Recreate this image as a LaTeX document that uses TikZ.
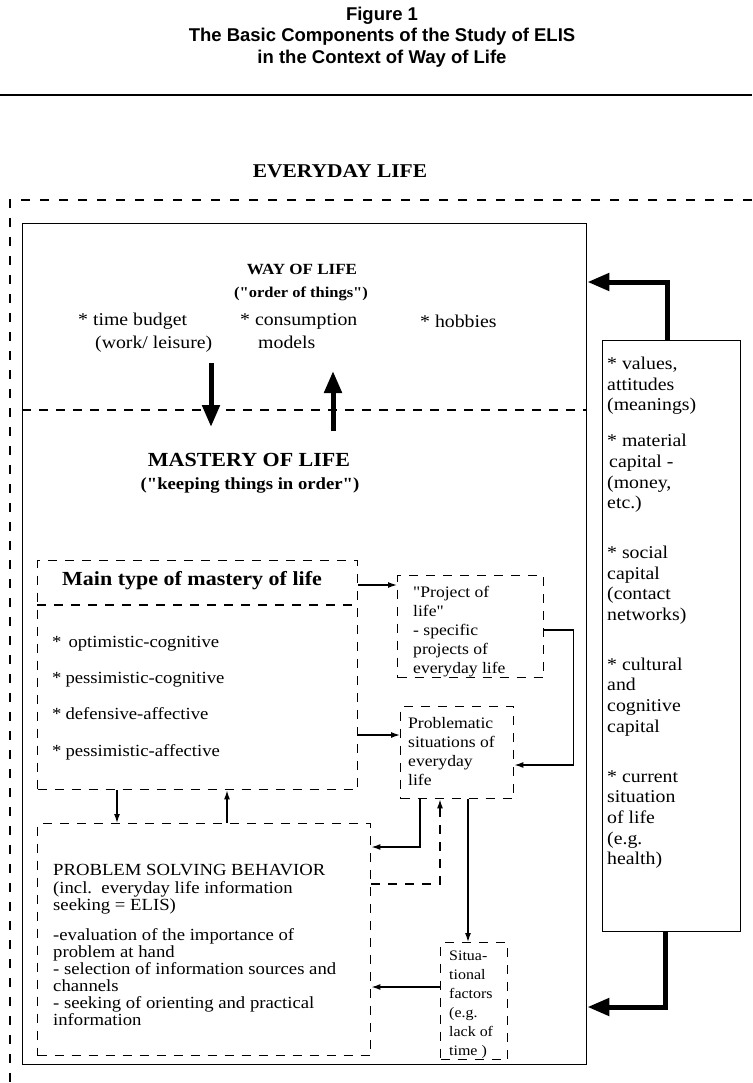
\documentclass[tikz,border=0pt]{standalone}
\usepackage{fontspec}
\setmainfont{Liberation Serif}[FakeStretch=1.1, Ligatures=TeXOff]
\newfontfamily\headfont{Liberation Sans}
\usetikzlibrary{arrows.meta}
\begin{document}
\begin{tikzpicture}[x=1pt,y=-1pt,
  solidbox/.style={draw, line width=1.4pt, inner sep=0pt, anchor=north west},
  dashbox/.style={draw, line width=1.4pt, dash pattern=on 9pt off 8pt, inner sep=0pt, anchor=north west},
  dashline/.style={line width=1.4pt, dash pattern=on 9pt off 8pt},
  txt/.style={anchor=north west, inner sep=0pt, align=left},
  lbl/.style={anchor=base, inner sep=0pt},
  fatarrow/.style={line width=5pt, line join=miter, -{Triangle[length=22pt,width=17pt]}},
  thinarrow/.style={line width=1.3pt, -{Latex[length=9pt,width=6pt]}},
]
\useasboundingbox (0,0) rectangle (752,1083);

% ---- title block ----
\node[font=\headfont\bfseries\fontsize{18.5}{21.5}\selectfont, align=center, inner sep=0pt]
  (title) at (382,37) {Figure 1\\The Basic Components of the Study of ELIS\\in the Context of Way of Life};
\coordinate (ruleL) at (0,95);
\coordinate (ruleR) at (752,95);
\draw[line width=2.6pt] (ruleL) -- (ruleR);

% ---- everyday life: open dashed frame ----
\node[lbl, font=\bfseries\fontsize{19.5}{22}\selectfont] (everyday) at (340,178) {EVERYDAY LIFE};
\coordinate (frameR) at (752,200);
\coordinate (frameC) at (10,200);
\coordinate (frameB) at (10,1083);
\draw[line width=1.3pt, dash pattern=on 9pt off 10pt] (frameR) -- (frameC) -- (frameB);

% ---- main boxes ----
\node[solidbox, minimum width=564pt, minimum height=841pt] (life) at (22,223) {};
\node[solidbox, minimum width=138pt, minimum height=591pt] (res) at (602,340) {};
\node[dashbox, minimum width=320pt, minimum height=229pt] (main) at (37,560) {};
\node[dashbox, minimum width=146pt, minimum height=102pt] (proj) at (397,575) {};
\node[dashbox, minimum width=113pt, minimum height=92pt] (prob) at (400,706) {};
\node[dashbox, minimum width=333pt, minimum height=232pt] (psb) at (37,823) {};
\node[dashbox, minimum width=67pt, minimum height=117pt] (sit) at (440,942) {};

% divider between way of life and mastery of life
\draw[dashline] (life.west |- 0,410) -- (life.east |- 0,410);
% header rule inside the mastery-type box
\draw[dashline] (main.west |- 0,605) -- (main.east |- 0,605);

% ---- way of life ----
\node[lbl, font=\bfseries\fontsize{15.5}{20}\selectfont] (way) at (302,274) {WAY OF LIFE};
\node[lbl, font=\bfseries\fontsize{15}{20}\selectfont] (order) at (301,297) {("order of things")};
\node[txt, font=\fontsize{18}{23}\selectfont] (budget) at (78,309.3)
  {\strut* time budget\\\hspace*{17pt}(work/ leisure)};
\node[txt, font=\fontsize{18}{23}\selectfont] (consum) at (240,309.3)
  {\strut* consumption\\\hspace*{18pt}models};
\node[anchor=base west, inner sep=0pt, font=\fontsize{18}{23}\selectfont] (hobbies) at (420,327) {* hobbies};

% arrows between way of life and mastery of life
\coordinate (dnA) at (211,363);
\coordinate (dnB) at (211,427);
\coordinate (upA) at (333,431);
\coordinate (upB) at (333,371);
\draw[fatarrow] (dnA) -- (dnB);
\draw[fatarrow] (upA) -- (upB);

% ---- mastery of life ----
\node[lbl, font=\bfseries\fontsize{20}{24}\selectfont] (mastery) at (249,466) {MASTERY OF LIFE};
\node[lbl, font=\bfseries\fontsize{17}{20}\selectfont] (keeping) at (250,489) {("keeping things in order")};

\node[anchor=base west, inner sep=0pt, font=\bfseries\fontsize{20}{24}\selectfont] (mainhead) at (62,585)
  {Main type of mastery of life};
\node[txt, font=\fontsize{17}{36.3}\selectfont] (types) at (52,621.7)
  {\strut*\hspace{7pt}optimistic-cognitive\\
   *\hspace{4pt}pessimistic-cognitive\\
   *\hspace{4pt}defensive-affective\\
   *\hspace{4pt}pessimistic-affective};

\node[txt, font=\fontsize{16}{19}\selectfont] (projtxt) at (413,583.5)
  {\strut"Project of\\life"\\- specific\\projects of\\everyday life};
\node[txt, font=\fontsize{16}{19}\selectfont] (probtxt) at (408,714.5)
  {\strut Problematic\\situations of\\everyday\\life};
\node[txt, font=\fontsize{17}{17}\selectfont] (psbtxt) at (53,863.2)
  {\strut PROBLEM SOLVING BEHAVIOR\\
   (incl.\ \ everyday life information\\
   seeking = ELIS)\\[13pt]
   -evaluation of the importance of\\
   problem at hand\\
   - selection of information sources and\\
   channels\\
   - seeking of orienting and practical\\
   information};
\node[txt, font=\fontsize{14.5}{19}\selectfont] (sittxt) at (449,947.1)
  {\strut Situa-\\tional\\factors\\(e.g.\\lack of\\time )};

% ---- resources box ----
\node[txt, font=\fontsize{18}{20.7}\selectfont] (restxt) at (607,354.9)
  {\strut* values,\\attitudes\\(meanings)\\[15pt]
   * material\\\hspace*{2pt}capital -\\(money,\\etc.)\\[29pt]
   * social\\capital\\(contact\\networks)\\[29pt]
   * cultural\\and\\cognitive\\capital\\[29pt]
   * current\\situation\\of life\\(e.g.\\health)};

% resources feed the whole way of life
\draw[fatarrow] ([xshift=-4pt]res.north) |- (life.east |- 0,282);
\draw[fatarrow] ([xshift=-6pt]res.south) |- (life.east |- 0,1007);

% ---- connectors inside mastery of life ----
\draw[thinarrow] (main.east |- 0,585) -- (proj.west |- 0,585);
\draw[thinarrow] (main.east |- 0,735) -- (prob.west |- 0,735);
\draw[thinarrow] (proj.east |- 0,630) -- ++(29,0) |- (prob.east |- 0,765);
\draw[thinarrow] (prob.south -| 420,0) |- (psb.east |- 0,847);
\draw[thinarrow, dash pattern=on 9pt off 8pt] (psb.east |- 0,884) -| (prob.south -| 440,0);
\draw[thinarrow] (prob.south -| 468,0) -- (sit.north -| 468,0);
\draw[thinarrow] (sit.west |- 0,987) -- (psb.east |- 0,987);
\draw[thinarrow] (main.south -| 117,0) -- (psb.north -| 117,0);
\draw[thinarrow] (psb.north -| 227,0) -- (main.south -| 227,0);
\end{tikzpicture}
\end{document}
